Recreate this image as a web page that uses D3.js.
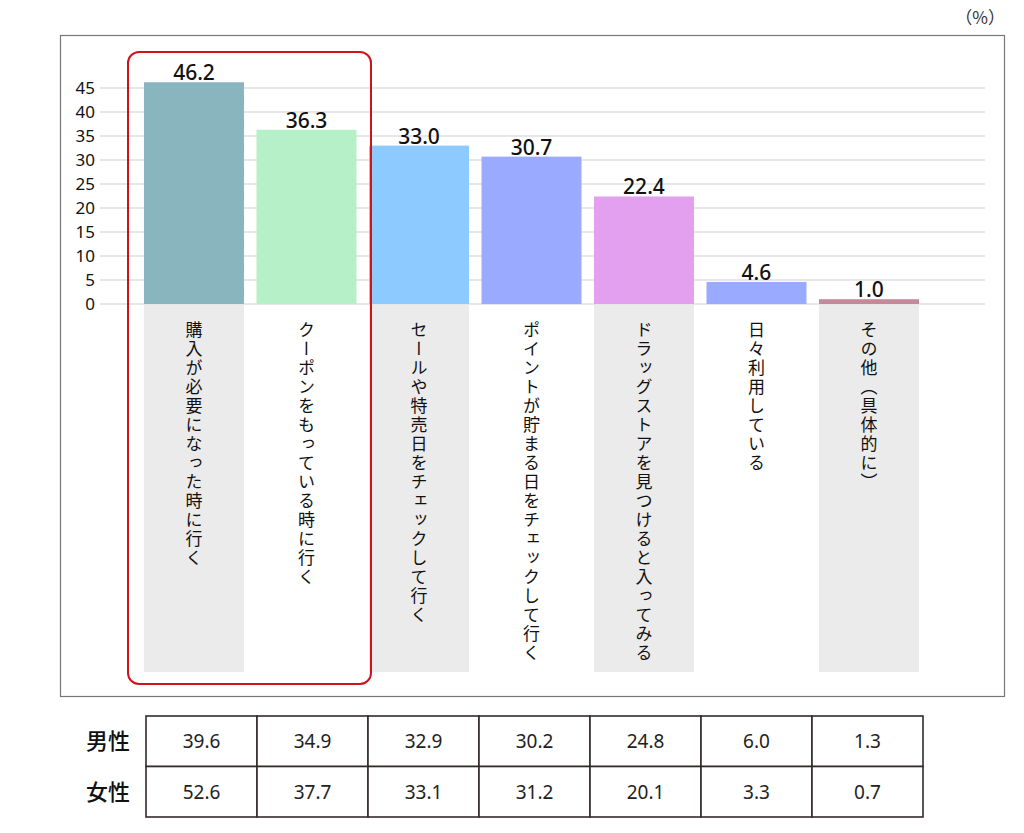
<!DOCTYPE html>
<html><head><meta charset="utf-8">
<script src="https://cdn.jsdelivr.net/npm/d3@7"></script>
<style>
body{margin:0;background:#fff;}
svg{display:block;}
</style></head>
<body>
<svg id="c" width="1024" height="833"></svg>
<script>
const categories = ["購入が必要になった時に行く","クーポンをもっている時に行く","セールや特売日をチェックして行く","ポイントが貯まる日をチェックして行く","ドラッグストアを見つけると入ってみる","日々利用している","その他（具体的に）"];
const totalValues = [46.2,36.3,33.0,30.7,22.4,4.6,1.0];
const barColors = ["#89b5be","#b5f0c9","#8ccaff","#9aabff","#e3a0ef","#9aabff","#c48a9a"];
const yTicks = [0,5,10,15,20,25,30,35,40,45];
const rowLabels = ["男性","女性"];
const maleValues = [39.6,34.9,32.9,30.2,24.8,6.0,1.3];
const femaleValues = [52.6,37.7,33.1,31.2,20.1,3.3,0.7];
const tableRows = [maleValues, femaleValues];

const svg = d3.select("#c");
const jp = "'Noto Sans CJK JP','Noto Sans',sans-serif";
const num = "'Noto Sans','Open Sans',sans-serif";

// frame
svg.append("rect").attr("x",60.5).attr("y",35.5).attr("width",944).attr("height",661)
  .attr("fill","none").attr("stroke","#777").attr("stroke-width",1.2);
svg.append("text").attr("x",1005).attr("y",24).attr("text-anchor","end")
  .attr("font-family",jp).attr("font-size",17).attr("fill","#333").text("（%）");

const y = d3.scaleLinear().domain([0,45]).range([304,88]);
const x = d3.scaleBand().domain(categories).range([137.75,925.25]).paddingInner(0.111).paddingOuter(0.0556);

// label backgrounds
svg.selectAll("rect.lbg").data(categories.filter((d,i)=>i%2===0)).enter().append("rect")
  .attr("class","lbg").attr("x",d=>x(d)).attr("y",y(0)+1).attr("width",x.bandwidth())
  .attr("height",367).attr("fill","#ebebeb");

// gridlines
svg.append("g").selectAll("line").data(yTicks).enter().append("line")
  .attr("x1",100).attr("x2",985).attr("y1",d=>y(d)).attr("y2",d=>y(d))
  .attr("stroke","#cfcfcf").attr("stroke-width",1);

// y axis
const yAxis = svg.append("g").attr("transform","translate(97,0)")
  .call(d3.axisLeft(y).tickValues(yTicks).tickSize(0).tickPadding(2));
yAxis.select(".domain").remove();
yAxis.selectAll("text").attr("font-family",num).attr("font-size",17).attr("fill","#111");

// bars
svg.selectAll("rect.bar").data(categories).enter().append("rect")
  .attr("class","bar").attr("x",d=>x(d)).attr("width",x.bandwidth())
  .attr("y",(d,i)=>y(totalValues[i])).attr("height",(d,i)=>y(0)-y(totalValues[i]))
  .attr("fill",(d,i)=>barColors[i]);

// value labels
svg.selectAll("text.val").data(categories).enter().append("text")
  .attr("class","val").attr("x",d=>x(d)+x.bandwidth()/2).attr("y",(d,i)=>y(totalValues[i])-2)
  .attr("text-anchor","middle").attr("font-family",num).attr("font-size",21).attr("font-weight",500)
  .attr("fill","#111").text((d,i)=>totalValues[i].toFixed(1));

// vertical category labels
svg.selectAll("text.cat").data(categories).enter().append("text")
  .attr("class","cat").attr("x",d=>x(d)+x.bandwidth()/2).attr("y",321)
  .style("writing-mode","vertical-rl").style("text-orientation","mixed")
  .attr("font-family",jp).attr("font-size",17).attr("letter-spacing",2).attr("fill","#111")
  .text(d=>d);

// red highlight
svg.append("rect").attr("x",128).attr("y",52).attr("width",243).attr("height",632)
  .attr("rx",11).attr("fill","none").attr("stroke","#d0121b").attr("stroke-width",2);

// table
const tx = d3.scaleBand().domain(categories).range([146,923]);
const ty = d3.scaleBand().domain(rowLabels).range([716,817]);
const tg = svg.append("g");
tableRows.forEach((vals,r)=>{
  tg.selectAll(null).data(categories).enter().append("rect")
    .attr("x",d=>tx(d)).attr("y",ty(rowLabels[r])).attr("width",tx.bandwidth()).attr("height",ty.bandwidth())
    .attr("fill","#fff").attr("stroke","#332b2b").attr("stroke-width",1.6);
  tg.selectAll(null).data(categories).enter().append("text")
    .attr("x",d=>tx(d)+tx.bandwidth()/2).attr("y",ty(rowLabels[r])+ty.bandwidth()/2+7)
    .attr("text-anchor","middle").attr("font-family",num).attr("font-size",19).attr("fill","#222")
    .text((d,i)=>vals[i].toFixed(1));
  tg.append("text").attr("x",108).attr("y",ty(rowLabels[r])+ty.bandwidth()/2+8)
    .attr("text-anchor","middle").attr("font-family",jp).attr("font-size",22).attr("font-weight",500)
    .attr("fill","#111").text(rowLabels[r]);
});
</script>
</body></html>
